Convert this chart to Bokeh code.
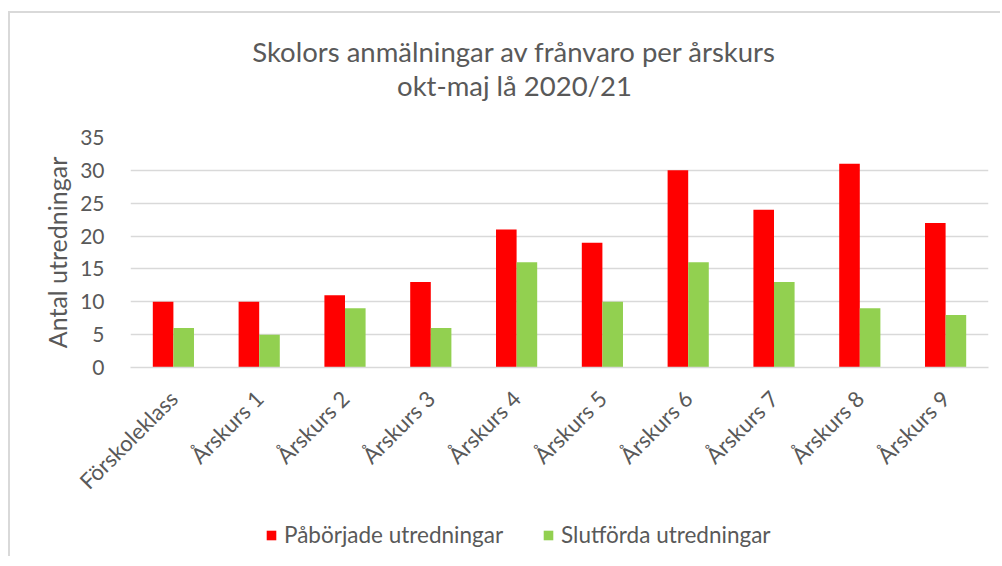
import math
from bokeh.plotting import figure
from bokeh.layouts import column
from bokeh.models import (ColumnDataSource, Range1d, FactorRange, Legend, LegendItem,
                          SingleIntervalTicker, Label)
from bokeh.transform import dodge
from bokeh.embed import file_html
from bokeh.resources import INLINE

categories = ["Förskoleklass", "Årskurs 1", "Årskurs 2", "Årskurs 3", "Årskurs 4",
              "Årskurs 5", "Årskurs 6", "Årskurs 7", "Årskurs 8", "Årskurs 9"]
paborjade = [10, 10, 11, 13, 21, 19, 30, 24, 31, 22]
slutforda = [6, 5, 9, 6, 16, 10, 16, 13, 9, 8]
series_names = ["Påbörjade utredningar", "Slutförda utredningar"]
series_colors = ["#ff0000", "#92d050"]
title_lines = ["Skolors anmälningar av frånvaro per årskurs", "okt-maj lå 2020/21"]
y_label = "Antal utredningar"

FONT = "Lato"
GRAY = "#595959"
GRID = "#d9d9d9"
W = 990
BL, BR = 120, 12


def blank_fig(h, x_range, y_range):
    f = figure(width=W, height=h, x_range=x_range, y_range=y_range,
               output_backend="svg", toolbar_location=None, title=None,
               x_axis_location=None, y_axis_location=None,
               min_border_left=BL, min_border_right=BR, min_border_top=0, min_border_bottom=0)
    f.outline_line_color = None
    f.grid.visible = False
    return f


src = ColumnDataSource(dict(cat=categories, a=paborjade, b=slutforda))


def add_bars(f):
    r1 = f.vbar(x=dodge("cat", -0.12, range=f.x_range), top="a", width=0.24, source=src,
                fill_color=series_colors[0], line_color=None)
    r2 = f.vbar(x=dodge("cat", 0.12, range=f.x_range), top="b", width=0.24, source=src,
                fill_color=series_colors[1], line_color=None)
    return [r1, r2]


# ---- title strip ----
tfig = blank_fig(97, Range1d(0, 1), Range1d(0, 1))
for line, yb in zip(title_lines, [59, 25]):
    tfig.add_layout(Label(x=384, y=yb, x_units="screen", y_units="screen", text=line,
                          text_align="center", text_baseline="alphabetic",
                          text_font=FONT, text_font_size="27.5px", text_color=GRAY))

# ---- main chart ----
p = figure(width=W, height=400, x_range=FactorRange(*categories, range_padding=0),
           y_range=Range1d(0, 35), output_backend="svg", toolbar_location=None, title=None,
           min_border_left=BL, min_border_right=BR, min_border_top=27, min_border_bottom=143)
p.outline_line_color = None
add_bars(p)

p.yaxis.ticker = SingleIntervalTicker(interval=5)
p.yaxis.axis_line_color = None
p.yaxis.major_tick_line_color = None
p.yaxis.minor_tick_line_color = None
p.yaxis.major_label_text_font = FONT
p.yaxis.major_label_text_font_size = "21px"
p.yaxis.major_label_text_color = GRAY
p.yaxis.major_label_standoff = 20
p.yaxis.axis_label = y_label
p.yaxis.axis_label_text_font = FONT
p.yaxis.axis_label_text_font_size = "25px"
p.yaxis.axis_label_text_font_style = "normal"
p.yaxis.axis_label_text_color = GRAY
p.yaxis.axis_label_standoff = 5

p.xaxis.axis_line_color = GRID
p.xaxis.axis_line_width = 1.5
p.xaxis.major_tick_line_color = None
p.xaxis.minor_tick_line_color = None
p.xaxis.major_label_orientation = math.pi / 4
p.xaxis.major_label_text_font = FONT
p.xaxis.major_label_text_font_size = "22px"
p.xaxis.major_label_text_color = GRAY
p.xaxis.major_label_standoff = 21

p.xgrid.grid_line_color = None
p.ygrid.grid_line_color = GRID
p.ygrid.grid_line_width = 1.5

# ---- legend strip (same series, drawn outside its visible range; only the legend shows) ----
lfig = blank_fig(46, FactorRange(*categories, range_padding=0), Range1d(100, 101))
lr = add_bars(lfig)
legend = Legend(items=[LegendItem(label=n, renderers=[r]) for n, r in zip(series_names, lr)],
                orientation="horizontal", location=(135, 8),
                glyph_width=12, glyph_height=12, label_standoff=7, spacing=39,
                label_height=24, padding=0, margin=0, border_line_color=None,
                background_fill_alpha=0,
                label_text_font=FONT, label_text_font_size="22.5px", label_text_color=GRAY)
lfig.add_layout(legend, "center")

page = column(tfig, p, lfig, spacing=0,
              styles={"border-left": "2px solid #d9d9d9", "border-top": "2px solid #d9d9d9",
                      "margin-left": "8px", "margin-top": "11px"})

open("out.html", "w").write(file_html(page, INLINE))
